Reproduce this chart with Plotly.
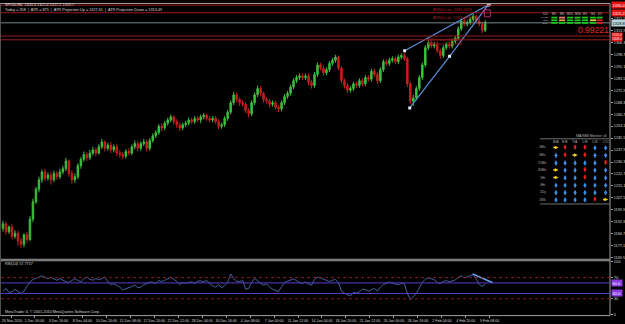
import plotly.graph_objects as go

# ------------------------------------------------------------------ data
bar_index = list(range(162))

open_ = [
    1188, 1191, 1186, 1189, 1183, 1185, 1180, 1178, 1184, 1181,
    1194, 1205, 1213, 1219, 1224, 1220, 1222, 1219, 1223, 1221,
    1224, 1226, 1231, 1223, 1219, 1221, 1228, 1232, 1235, 1233,
    1236, 1238, 1236, 1240, 1243, 1239, 1241, 1238, 1240, 1236,
    1235, 1234, 1237, 1236, 1240, 1242, 1239, 1242, 1243, 1239,
    1244, 1247, 1249, 1253, 1252, 1255, 1257, 1259, 1256, 1254,
    1252, 1254, 1255, 1257, 1256, 1258, 1257, 1259, 1260, 1258,
    1257, 1258, 1256, 1253, 1254, 1258, 1262, 1268, 1273, 1270,
    1268, 1267, 1263, 1261, 1268, 1273, 1277, 1274, 1270, 1269,
    1267, 1268, 1265, 1264, 1268, 1272, 1274, 1278, 1282, 1284,
    1285, 1284, 1285, 1281, 1279, 1286, 1292, 1290, 1287, 1289,
    1293, 1295, 1297, 1290, 1282, 1279, 1276, 1277, 1280, 1279,
    1282, 1280, 1284, 1283, 1288, 1286, 1282, 1289, 1294, 1293,
    1295, 1296, 1294, 1297, 1298, 1296, 1280, 1269, 1271, 1277,
    1284, 1292, 1303, 1306, 1304, 1305, 1301, 1298, 1303, 1305,
    1304, 1307, 1309, 1315, 1320, 1318, 1319, 1321, 1323, 1320,
    1318, 1314]

high = [
    1193, 1192.5, 1190, 1191, 1187, 1186.5, 1182, 1185, 1186, 1196,
    1207, 1214.5, 1221, 1225.5, 1226, 1223.5, 1224, 1225, 1224.5, 1226,
    1228, 1233, 1232, 1225, 1223, 1229.5, 1233.5, 1237, 1236.5, 1238,
    1240, 1239.5, 1241.5, 1245, 1244, 1242.5, 1243, 1241.5, 1242, 1238,
    1236.5, 1238.5, 1239, 1241.5, 1244, 1243.5, 1243.5, 1245, 1244.5, 1245.5,
    1248.5, 1250.5, 1254.5, 1255, 1256.5, 1258.5, 1260.5, 1260, 1257.5, 1255.5,
    1255.5, 1256.5, 1258.5, 1258.5, 1259.5, 1259.5, 1260.5, 1261.5, 1261, 1259.5,
    1259.5, 1259.5, 1257.5, 1255.5, 1259.5, 1263.5, 1269.5, 1275, 1274.5, 1271.5,
    1269.5, 1268.5, 1264.5, 1269.5, 1274.5, 1279, 1278.5, 1275, 1271.5, 1270.5,
    1269.5, 1269.5, 1266.5, 1269.5, 1273.5, 1275.5, 1279.5, 1283.5, 1285.5, 1286.5,
    1286.5, 1286.5, 1286.5, 1282.5, 1287.5, 1293.5, 1293.5, 1291.5, 1290.5, 1294.5,
    1296.5, 1298.5, 1298, 1291, 1283.5, 1280.5, 1278.5, 1281.5, 1281.5, 1283.5,
    1283.5, 1285.5, 1285.5, 1289.5, 1289.5, 1287.5, 1290.5, 1295.5, 1295.5, 1296.5,
    1297.5, 1297.5, 1298.5, 1299.5, 1300, 1297, 1281.5, 1273, 1278.5, 1285.5,
    1293.5, 1304.5, 1307.5, 1307.5, 1306.5, 1306.5, 1302.5, 1304.5, 1306.5, 1306.5,
    1308.5, 1310.5, 1316.5, 1321.5, 1321.5, 1320.5, 1322.5, 1324.5, 1324, 1321.5,
    1319.5, 1320.5]

low = [
    1186, 1184, 1184.5, 1181, 1181.5, 1177, 1175.5, 1176, 1179, 1180,
    1192, 1203.5, 1211, 1217, 1218, 1218.5, 1216, 1217.5, 1219, 1219.5,
    1222.5, 1224.5, 1221, 1216.5, 1217, 1219.5, 1226, 1230.5, 1231, 1231.5,
    1234.5, 1234, 1235, 1238.5, 1237, 1237.5, 1236, 1236.5, 1234, 1233,
    1232, 1232.5, 1234.5, 1234.5, 1238.5, 1237, 1237.5, 1240.5, 1237, 1237.5,
    1242.5, 1245.5, 1247.5, 1250, 1250.5, 1253.5, 1255.5, 1254, 1252, 1250,
    1250.5, 1252.5, 1253.5, 1254.5, 1254.5, 1255.5, 1255, 1257.5, 1256.5, 1255.5,
    1255.5, 1254.5, 1251, 1251.5, 1252.5, 1256.5, 1260.5, 1266.5, 1268.5, 1266,
    1265.5, 1261.5, 1258.5, 1259.5, 1266.5, 1271.5, 1272, 1268, 1267.5, 1265,
    1265.5, 1263.5, 1262, 1262.5, 1266.5, 1270.5, 1272.5, 1276.5, 1280.5, 1282.5,
    1282.5, 1282.5, 1279, 1277, 1277.5, 1284.5, 1288.5, 1285, 1285.5, 1287.5,
    1291.5, 1293.5, 1288.5, 1280, 1277, 1274, 1274.5, 1275.5, 1277.5, 1277.5,
    1278.5, 1278.5, 1281.5, 1281.5, 1284.5, 1280, 1280.5, 1287.5, 1291.5, 1291.5,
    1293.5, 1292.5, 1292.5, 1295.5, 1294.5, 1278, 1267, 1266, 1269.5, 1275.5,
    1282.5, 1290.5, 1301.5, 1302.5, 1302.5, 1299.5, 1296, 1296.5, 1301.5, 1302.5,
    1302.5, 1305.5, 1307.5, 1313.5, 1316.5, 1316.5, 1317.5, 1319.5, 1318.5, 1316.5,
    1312, 1313]

close = [
    1191, 1186, 1189, 1183, 1185, 1180, 1178, 1184, 1181, 1194,
    1205, 1213, 1219, 1224, 1220, 1222, 1219, 1223, 1221, 1224,
    1226, 1231, 1223, 1219, 1221, 1228, 1232, 1235, 1233, 1236,
    1238, 1236, 1240, 1243, 1239, 1241, 1238, 1240, 1236, 1235,
    1234, 1237, 1236, 1240, 1242, 1239, 1242, 1243, 1239, 1244,
    1247, 1249, 1253, 1252, 1255, 1257, 1259, 1256, 1254, 1252,
    1254, 1255, 1257, 1256, 1258, 1257, 1259, 1260, 1258, 1257,
    1258, 1256, 1253, 1254, 1258, 1262, 1268, 1273, 1270, 1268,
    1267, 1263, 1261, 1268, 1273, 1277, 1274, 1270, 1269, 1267,
    1268, 1265, 1264, 1268, 1272, 1274, 1278, 1282, 1284, 1285,
    1284, 1285, 1281, 1279, 1286, 1292, 1290, 1287, 1289, 1293,
    1295, 1297, 1290, 1282, 1279, 1276, 1277, 1280, 1279, 1282,
    1280, 1284, 1283, 1288, 1286, 1282, 1289, 1294, 1293, 1295,
    1296, 1294, 1297, 1298, 1296, 1280, 1269, 1271, 1277, 1284,
    1292, 1303, 1306, 1304, 1305, 1301, 1298, 1303, 1305, 1304,
    1307, 1309, 1315, 1320, 1318, 1319, 1321, 1323, 1320, 1318,
    1314, 1319]

rsi = [
    44, 49.5, 42, 43, 47.6, 43, 40, 44.5, 52.6, 62,
    66.4, 68.2, 70.7, 73.2, 70.7, 68.2, 70.7, 67, 65, 68.2,
    65, 62, 60.8, 65, 68.2, 64.5, 62, 68.2, 71.3, 67,
    65, 68.2, 65.7, 68.2, 71.3, 62, 57, 58.3, 55.8, 52,
    46.4, 48.3, 50.8, 53.3, 55.8, 50.8, 52, 57, 58.3, 62,
    60.8, 58.9, 64.5, 62.6, 65, 68.2, 70.7, 67, 63.2, 57,
    60.8, 59.5, 60.8, 62, 58.9, 63.2, 63.9, 62, 65, 58.3,
    54.5, 52, 57, 50.8, 54.5, 60.8, 77, 68.2, 63.2, 62,
    65, 48.3, 49.5, 60.8, 68.2, 64.5, 58.9, 55.8, 58.3, 52,
    48.3, 45.8, 43.3, 53.3, 60.8, 63.2, 65, 67.6, 64.5, 60.8,
    58.9, 62, 57.7, 55.8, 67, 70.7, 69.4, 67, 64.5, 62.6,
    65, 66.4, 60.8, 44.5, 40.8, 38.3, 35.2, 42, 40.8, 43.3,
    48.3, 47, 44.5, 47, 49.5, 44.5, 52, 57, 58.9, 61.4,
    60.2, 57.7, 57, 58.9, 58.3, 40.2, 28.3, 33.3, 40.2, 49.5,
    60.8, 67, 69.4, 68.2, 65.7, 60.8, 58.9, 62.6, 64.5, 62,
    64.5, 65.7, 70.7, 73.2, 69.4, 71.3, 74.4, 75.7, 67, 57,
    53.3, 57.8]

date_ticks = [3, 10.5, 18.5, 26.5, 34.5, 42.5, 50.5, 58.5, 66.5, 74.5, 82.5,
              90.5, 98.5, 106.5, 114.5, 122.5, 130.5, 138.5, 146.5, 154.5, 162.5]
date_labels = ["26 Nov 2010", "1 Dec 00:00", "3 Dec 16:00", "8 Dec 04:00",
               "10 Dec 20:00", "15 Dec 08:00", "17 Dec 20:00", "22 Dec 12:00",
               "28 Dec 04:00", "30 Dec 16:00", "4 Jan 08:00", "7 Jan 00:00",
               "11 Jan 12:00", "14 Jan 04:00", "18 Jan 20:00", "21 Jan 12:00",
               "26 Jan 00:00", "28 Jan 16:00", "2 Feb 04:00", "4 Feb 20:00",
               "9 Feb 08:00"]

price_ticks = [1169.5, 1177.1, 1184.7, 1192.3, 1199.9, 1207.5, 1215.1, 1222.7,
               1230.3, 1237.9, 1245.5, 1253.1, 1260.7, 1268.3, 1275.9, 1283.5,
               1291.1, 1298.7, 1306.3, 1313.9, 1321.5]
rsi_ticks = [0, 30, 70, 100]
rsi_dotted_levels = [30, 70]
rsi_solid_levels = [40, 60]

atr_res = [1330.0, 1325.2]
atr_res_text = ["ATR(r) res: 1331.4211", "ATR(r) res: 1326.0598"]
atr_sup = [1310.4, 1308.0]
atr_sup_text = ["ATR(r) sup: 1310.4716", "ATR(r) sup: 1308.0786"]
bid_price = 1318.8

wedge_upper_x = [134.1, 162.4]
wedge_upper_y = [1301.1, 1330.6]
wedge_lower_x = [135.8, 149.1, 162.0]
wedge_lower_y = [1264.7, 1297.5, 1330.2]
rsi_trend_x = [156.8, 163.5]
rsi_trend_y = [77.0, 60.2]

grid_cols = ["M1", "M5", "M15", "M30", "H1", "H4", "D1"]
grid_rows = ["MACD", "STR", "EMA"]
grid_states = [["G", "P", "G", "G", "G", "G", "G"],
               ["G", "O", "G", "G", "G", "Y", "R"],
               ["G", "G", "G", "G", "G", "G", "R"]]
ratio_text = "0.99221"

mon_cols = ["B/A", "E/B", "T/A", "C/E", "C/K", "C/C"]
mon_rows = ["1Mn", "5Mn", "15Mn", "30Mn", "1Hr", "4Hr", "1Dy", "1Wk"]
mon_states = [["R", "D", "D", "D", "U", "U"],
              ["U", "D", "R", "D", "U", "U"],
              ["U", "U", "U", "U", "U", "D"],
              ["R", "U", "U", "D", "U", "U"],
              ["R", "U", "U", "D", "U", "U"],
              ["U", "U", "U", "U", "U", "U"],
              ["U", "U", "U", "U", "U", "U"],
              ["U", "U", "U", "U", "D", "R"]]

# ------------------------------------------------------------------ layout helpers
W, H = 625, 324
X0, X1 = 1, 611
MAIN_TOP, MAIN_BOT = 2, 260
RSI_TOP, RSI_BOT = 262, 317
FONT = "Liberation Sans, Arial, sans-serif"
GREEN = "#3cbf3c"
RED = "#c81e1e"
FRAME = "#a0a0a0"
TXT = "#d8d8d8"


def fx(px):
    return px / W


def fy(py):
    return 1 - py / H


x_range = [-2 / 3, 202 + 2 / 3]
y_range = [1168.76, 1330.78]
rsi_range = [-0.9, 101.9]

fig = go.Figure()

fig.add_trace(go.Candlestick(
    x=bar_index, open=open_, high=high, low=low, close=close,
    increasing=dict(line=dict(color=GREEN, width=1), fillcolor=GREEN),
    decreasing=dict(line=dict(color=RED, width=1), fillcolor=RED),
    whiskerwidth=0, hoverinfo="skip", xaxis="x", yaxis="y"))

WEDGE = "#5b8fdc"
fig.add_trace(go.Scatter(x=wedge_upper_x, y=wedge_upper_y, mode="lines+markers",
                         line=dict(color=WEDGE, width=1.2),
                         marker=dict(symbol="square", size=3, color="#dce8ff"),
                         xaxis="x", yaxis="y", hoverinfo="skip"))
fig.add_trace(go.Scatter(x=wedge_lower_x, y=wedge_lower_y, mode="lines+markers",
                         line=dict(color=WEDGE, width=1.2),
                         marker=dict(symbol="square", size=3, color="#dce8ff"),
                         xaxis="x", yaxis="y", hoverinfo="skip"))

fig.add_trace(go.Scatter(x=bar_index, y=rsi, mode="lines",
                         line=dict(color="#4a6cb8", width=0.9),
                         xaxis="x2", yaxis="y2", hoverinfo="skip"))
fig.add_trace(go.Scatter(x=rsi_trend_x, y=rsi_trend_y, mode="lines",
                         line=dict(color="#6aa6f0", width=1.5),
                         xaxis="x2", yaxis="y2", hoverinfo="skip"))

# MA monitor arrows (head marker + short stem) on a pixel overlay axis
mcol_x = [556.8, 566, 576, 585.9, 595.9, 606.6]
mrow_y = [147.3, 155, 162.7, 170, 177.7, 185.3, 192.7, 200]
arrow_style = {"U": ("arrow-up", "#3d92ea"), "D": ("arrow-down", "#e42020"),
               "R": ("arrow-right", "#f2d21a")}
for key, (sym, col) in arrow_style.items():
    hx, hy, sx, sy = [], [], [], []
    for r, ry in enumerate(mrow_y):
        for c, cx in enumerate(mcol_x):
            if mon_states[r][c] != key:
                continue
            if key == "U":
                hx.append(cx); hy.append(ry - 2.6)
                sx += [cx, cx, None]; sy += [ry - 0.5, ry + 2.6, None]
            elif key == "D":
                hx.append(cx); hy.append(ry + 2.6)
                sx += [cx, cx, None]; sy += [ry - 2.6, ry + 0.5, None]
            else:
                hx.append(cx + 2.6); hy.append(ry)
                sx += [cx - 2.6, cx + 0.5, None]; sy += [ry, ry, None]
    fig.add_trace(go.Scatter(x=sx, y=sy, mode="lines", xaxis="x3", yaxis="y3",
                             line=dict(color=col, width=1.6), hoverinfo="skip"))
    fig.add_trace(go.Scatter(x=hx, y=hy, mode="markers", xaxis="x3", yaxis="y3",
                             marker=dict(symbol=sym, size=3.6, color=col,
                                         line=dict(width=0)),
                             hoverinfo="skip"))

shapes = []
# frame lines
for y in (1.5, 260.5, 262, 317.5):
    shapes.append(dict(type="line", xref="paper", yref="paper", x0=0, x1=fx(X1),
                       y0=fy(y), y1=fy(y), line=dict(color=FRAME, width=1)))
shapes.append(dict(type="line", xref="paper", yref="paper", x0=fx(X1), x1=fx(X1),
                   y0=fy(1.5), y1=fy(317.5), line=dict(color=FRAME, width=1)))
shapes.append(dict(type="line", xref="paper", yref="paper", x0=fx(0.5), x1=fx(0.5),
                   y0=fy(1.5), y1=fy(317.5), line=dict(color="#505050", width=1)))

# ATR lines and bid line
for p in atr_res + atr_sup:
    shapes.append(dict(type="line", xref="x domain", yref="y", x0=0, x1=1, y0=p, y1=p,
                       line=dict(color="#9b1c1c", width=1)))
shapes.append(dict(type="line", xref="x domain", yref="y", x0=0, x1=1,
                   y0=bid_price, y1=bid_price, line=dict(color="#7a868c", width=1)))
# small box near the apex
shapes.append(dict(type="rect", xref="x", yref="y", x0=160.7, x1=162.7, y0=1322.6, y1=1327.0,
                   line=dict(color="#b03070", width=1)))

# RSI levels
for v in rsi_dotted_levels:
    shapes.append(dict(type="line", xref="x2 domain", yref="y2", x0=0, x1=1, y0=v, y1=v,
                       line=dict(color="#8e1a1a", width=1, dash="dot")))
for v in rsi_solid_levels:
    shapes.append(dict(type="line", xref="x2 domain", yref="y2", x0=0, x1=1, y0=v, y1=v,
                       line=dict(color="#5a3cc8", width=1)))

annotations = []


def text(px, py, s, size=4, color=TXT, xanchor="left", yanchor="middle", family=FONT, **kw):
    annotations.append(dict(xref="paper", yref="paper", x=fx(px), y=fy(py), text=s,
                            showarrow=False, xanchor=xanchor, yanchor=yanchor,
                            font=dict(family=family, size=size, color=color), **kw))


# top-left info
text(3, 3.2, "SP500,H4  1320.4 1322.4 1317.2 1319.7", size=3.8)
text(3, 7.6, "Today = 358  |  ATR = 875  |  ATR Projection Up = 1327.61  |  "
             "ATR Projection Down = 1313.49", size=3.8)

# ATR labels on the lines
for p, s in zip(atr_res, atr_res_text):
    annotations.append(dict(xref="x", yref="y", x=143, y=p, text=s, showarrow=False,
                            xanchor="left", yanchor="top",
                            font=dict(family=FONT, size=4, color="#b02020")))
annotations.append(dict(xref="x", yref="y", x=141.3, y=atr_sup[0],
                        text="<br>".join(atr_sup_text), showarrow=False,
                        xanchor="left", yanchor="top", align="left",
                        font=dict(family=FONT, size=3.4, color="#b02020")))

# price boxes on right axis
for p in atr_res:
    annotations.append(dict(xref="paper", yref="y", x=fx(612), y=p, text=f"{p:.1f}",
                            showarrow=False, xanchor="left", yanchor="middle",
                            bgcolor="#e01414", borderpad=0.5,
                            font=dict(family=FONT, size=4, color="#ffffff")))
annotations.append(dict(xref="paper", yref="y", x=fx(612), y=sum(atr_sup) / 2 + 0.4,
                        text="<br>".join(f"{p:.1f}" for p in atr_sup),
                        showarrow=False, xanchor="left", yanchor="middle",
                        bgcolor="#e01414", borderpad=0,
                        font=dict(family=FONT, size=3.2, color="#ffffff")))
annotations.append(dict(xref="paper", yref="y", x=fx(612), y=bid_price, text=f"{bid_price:.1f}",
                        showarrow=False, xanchor="left", yanchor="middle",
                        bgcolor="#b8d4d8", borderpad=0.5,
                        font=dict(family=FONT, size=4, color="#000000")))
for v in rsi_solid_levels:
    annotations.append(dict(xref="paper", yref="y2", x=fx(612), y=v, text=f"{v:.1f}",
                            showarrow=False, xanchor="left", yanchor="middle",
                            bgcolor="#8a3ae0", borderpad=0.5,
                            font=dict(family=FONT, size=4, color="#ffffff")))

# signal grid (top right)
state_col = {"G": "#19c819", "P": "#f08080", "O": "#f0a040", "Y": "#e8d040", "R": "#e02020"}
col_x = [555.2, 563, 571, 578.5, 586, 594, 600.6]
row_y = [15.8, 18.5, 21.2]
text(546, 12.4, "CU", size=3.2, color="#c0c0c0", xanchor="center")
for cx, lbl in zip(col_x, grid_cols):
    text(cx, 12.4, lbl, size=3.0, color="#c0c0c0", xanchor="center")
text(551, 18.5, "MACD<br>STR<br>EMA", size=2.4, color="#c0c0c0", xanchor="right", align="right")
for r, ry in enumerate(row_y):
    for c, cx in enumerate(col_x):
        shapes.append(dict(type="rect", xref="paper", yref="paper",
                           x0=fx(cx - 3), x1=fx(cx + 3), y0=fy(ry + 0.9), y1=fy(ry - 0.9),
                           fillcolor=state_col[grid_states[r][c]], line=dict(width=0)))
text(594, 28.2, ratio_text, size=8.5, color="#e82020", xanchor="center")

# MA monitor table
text(610, 136, "MA/SMI Monitor v4", size=3.6, color="#b0b0b0", xanchor="right")
shapes.append(dict(type="line", xref="paper", yref="paper", x0=fx(541), x1=fx(610),
                   y0=fy(138.5), y1=fy(138.5), line=dict(color="#707070", width=1)))
shapes.append(dict(type="line", xref="paper", yref="paper", x0=fx(541), x1=fx(610),
                   y0=fy(204.5), y1=fy(204.5), line=dict(color="#707070", width=1)))
for cx, lbl in zip(mcol_x, mon_cols):
    text(cx, 141.5, lbl, size=3.4, color="#b0b0b0", xanchor="center")
for ry, lbl in zip(mrow_y, mon_rows):
    text(549, ry, lbl, size=3.3, color="#b0b0b0", xanchor="right")

# RSI panel texts
text(3, 265.5, "RSI(14) 57.7757", size=3.8)
text(3, 314, "MetaTrader 4, © 2001-2010 MetaQuotes Software Corp.", size=3.8)

fig.update_layout(
    width=W, height=H, margin=dict(l=0, r=0, t=0, b=0),
    paper_bgcolor="#000000", plot_bgcolor="rgba(0,0,0,0)", showlegend=False,
    font=dict(family=FONT, color=TXT, size=4),
    xaxis=dict(domain=[fx(X0), fx(X1)], range=x_range, anchor="y",
               showgrid=False, zeroline=False, showticklabels=False, ticks="",
               rangeslider=dict(visible=False), showline=False, fixedrange=True),
    xaxis2=dict(domain=[fx(X0), fx(X1)], range=x_range, anchor="y2",
                showgrid=False, zeroline=False, showline=False,
                tickvals=date_ticks, ticktext=date_labels, ticks="outside",
                ticklen=2, tickwidth=1, tickcolor=FRAME, tickangle=0,
                tickfont=dict(family=FONT, size=3.6, color=TXT), fixedrange=True),
    yaxis=dict(domain=[fy(MAIN_BOT), fy(MAIN_TOP)], range=y_range, anchor="x",
               side="right", showgrid=False, zeroline=False, showline=False,
               tickvals=price_ticks, ticktext=[f"{v:.1f}" for v in price_ticks],
               ticks="outside", ticklen=2, tickwidth=1, tickcolor=FRAME,
               tickfont=dict(family=FONT, size=3.8, color=TXT), fixedrange=True),
    yaxis2=dict(domain=[fy(RSI_BOT), fy(RSI_TOP)], range=rsi_range, anchor="x2",
                side="right", showgrid=False, zeroline=False, showline=False,
                tickvals=rsi_ticks, ticktext=[str(v) for v in rsi_ticks],
                ticks="outside", ticklen=2, tickwidth=1, tickcolor=FRAME,
                tickfont=dict(family=FONT, size=4, color=TXT), fixedrange=True),
    xaxis3=dict(domain=[0, 1], range=[0, W], anchor="y3", visible=False, fixedrange=True),
    yaxis3=dict(domain=[0, 1], range=[H, 0], anchor="x3", visible=False, fixedrange=True),
    shapes=shapes, annotations=annotations,
)

fig.write_html("out.html")
